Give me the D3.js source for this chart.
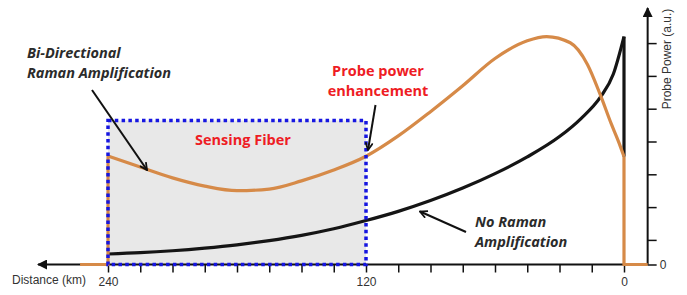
<!DOCTYPE html>
<html>
<head>
<meta charset="utf-8">
<script src="https://cdn.jsdelivr.net/npm/d3@7"></script>
<style>
  body { margin: 0; background: #fff; }
  .axis text, .axis-label { font-family: "Liberation Sans", Arial, sans-serif; font-size: 12px; fill: #333; }
  .note { font-family: "Open Sans", sans-serif; font-weight: bold; font-size: 14.5px; }
</style>
</head>
<body>
<div id="chart"></div>
<script>
var width = 687;
var height = 295;

// Probe power along the fiber (distance in km, power in a.u.)
var biDist = [240, 225, 210, 195, 180, 165, 150, 135, 120, 105, 90, 75, 60, 45, 36, 25, 17, 11, 6, 2.5, 0];
var biPower = [3.31, 2.97, 2.64, 2.39, 2.25, 2.3, 2.55, 2.88, 3.3, 3.92, 4.66, 5.45, 6.28, 6.82, 6.95, 6.76, 6.1, 5.17, 4.3, 3.74, 3.29];

var noDist = [240, 225, 210, 195, 180, 165, 150, 135, 120, 105, 90, 75, 60, 45, 30, 20, 11, 5, 0];
var noPower = [0.32, 0.36, 0.42, 0.5, 0.6, 0.73, 0.89, 1.09, 1.34, 1.62, 1.95, 2.33, 2.77, 3.28, 3.9, 4.45, 5.1, 5.8, 6.95];

// flat parts of the bi-directional trace outside the fiber
var leadIn = [[253, 0], [240, 0], [240, 3.31]];
var leadOut = [[0, 3.29], [0, 0], [-11, 0]];

var sensingSpan = [240, 120];
var sensingTop = 4.39;

var xTicks = d3.range(0, 241, 15);
var xLabels = [240, 120, 0];
var yTicks = [0, 0.75, 1.75, 2.75, 3.75, 4.75, 5.75, 6.75];

var x = d3.scaleLinear().domain([240, 0]).range([108, 624]);
var y = d3.scaleLinear().domain([0, 7]).range([264.5, 34.9]);

var svg = d3.select("#chart")
    .append("svg")
    .attr("width", width)
    .attr("height", height);

var defs = svg.append("defs");
defs.append("marker")
    .attr("id", "open")
    .attr("viewBox", "0 0 10 10")
    .attr("refX", 9).attr("refY", 5)
    .attr("markerWidth", 9).attr("markerHeight", 9)
    .attr("markerUnits", "userSpaceOnUse")
    .attr("orient", "auto")
    .append("path")
    .attr("d", "M1,1 L9,5 L1,9")
    .attr("fill", "none")
    .attr("stroke", "#111")
    .attr("stroke-width", 2);
defs.append("marker")
    .attr("id", "solid")
    .attr("viewBox", "0 0 10 10")
    .attr("refX", 9).attr("refY", 5)
    .attr("markerWidth", 10).attr("markerHeight", 10)
    .attr("markerUnits", "userSpaceOnUse")
    .attr("orient", "auto")
    .append("path")
    .attr("d", "M0,0 L10,5 L0,10 Z")
    .attr("fill", "#111");

// Sensing fiber box (fill)
var box = {
    x: x(sensingSpan[0]), y: y(sensingTop),
    w: x(sensingSpan[1]) - x(sensingSpan[0]), h: y(0) - y(sensingTop)
};
svg.append("rect")
    .attr("x", box.x).attr("y", box.y)
    .attr("width", box.w).attr("height", box.h)
    .attr("fill", "#e8e8e8");

// Axes
var axisX = x(-11);
svg.append("line")
    .attr("x1", axisX).attr("y1", y(0))
    .attr("x2", 38).attr("y2", y(0))
    .attr("stroke", "#111").attr("stroke-width", 2)
    .attr("marker-end", "url(#solid)");
svg.append("line")
    .attr("x1", axisX).attr("y1", y(0))
    .attr("x2", axisX).attr("y2", 8)
    .attr("stroke", "#111").attr("stroke-width", 2)
    .attr("marker-end", "url(#solid)");

var gx = svg.append("g")
    .attr("class", "axis")
    .attr("transform", "translate(0," + y(0) + ")")
    .call(d3.axisBottom(x)
        .tickValues(xTicks)
        .tickSize(8)
        .tickFormat(function(d) { return xLabels.indexOf(d) >= 0 ? d : ""; }));
gx.select(".domain").remove();
gx.selectAll(".tick line").attr("stroke", "#111").attr("stroke-width", 1.5);
gx.selectAll(".tick text").attr("dy", "0.9em");

var gy = svg.append("g")
    .attr("class", "axis")
    .attr("transform", "translate(" + axisX + ",0)")
    .call(d3.axisRight(y)
        .tickValues(yTicks)
        .tickSize(9)
        .tickFormat(function(d) { return d === 0 ? "0" : ""; }));
gy.select(".domain").remove();
gy.selectAll(".tick line").attr("stroke", "#111").attr("stroke-width", 1.5);

svg.append("text")
    .attr("class", "axis-label")
    .attr("x", 12).attr("y", 284)
    .text("Distance (km)");

svg.append("text")
    .attr("class", "axis-label")
    .attr("transform", "translate(671,59) rotate(-90)")
    .attr("text-anchor", "middle")
    .text("Probe Power (a.u.)");

// Traces
var smooth = d3.line()
    .x(function(d) { return x(d[0]); })
    .y(function(d) { return y(d[1]); })
    .curve(d3.curveMonotoneX);
var straight = d3.line()
    .x(function(d) { return x(d[0]); })
    .y(function(d) { return y(d[1]); });

var orange = "#d68a48";

svg.append("path")
    .attr("d", smooth(d3.zip(noDist, noPower)))
    .attr("fill", "none").attr("stroke", "#151515").attr("stroke-width", 3.2);
svg.append("path")
    .attr("d", straight([[0, noPower[noPower.length - 1]], [0, 3.29]]))
    .attr("fill", "none").attr("stroke", "#151515").attr("stroke-width", 3.2);

svg.append("path")
    .attr("d", smooth(d3.zip(biDist, biPower)))
    .attr("fill", "none").attr("stroke", orange).attr("stroke-width", 3.2);
[leadIn, leadOut].forEach(function(seg) {
    svg.append("path")
        .attr("d", straight(seg))
        .attr("fill", "none").attr("stroke", orange).attr("stroke-width", 3.2);
});

// Sensing fiber box (dotted border on top)
svg.append("rect")
    .attr("x", box.x).attr("y", box.y)
    .attr("width", box.w).attr("height", box.h)
    .attr("fill", "none")
    .attr("stroke", "#1616e0")
    .attr("stroke-width", 3.5)
    .attr("stroke-dasharray", "3.5,3.3");

// Annotations
var notes = [
    { lines: ["Bi-Directional", "Raman Amplification"], x: 27, y: 58, color: "#2b2b2b", italic: true, anchor: "start" },
    { lines: ["Sensing Fiber"], x: 243, y: 145, color: "#ee1c24", italic: false, anchor: "middle" },
    { lines: ["Probe power", "enhancement"], x: 378, y: 76, color: "#ee1c24", italic: false, anchor: "middle" },
    { lines: ["No Raman", "Amplification"], x: 475, y: 227, color: "#2b2b2b", italic: true, anchor: "start" }
];
notes.forEach(function(n) {
    var t = svg.append("text")
        .attr("class", "note")
        .attr("text-anchor", n.anchor)
        .style("fill", n.color)
        .style("font-style", n.italic ? "italic" : "normal");
    n.lines.forEach(function(l, i) {
        t.append("tspan").attr("x", n.x).attr("y", n.y + i * 20).text(l);
    });
});

var pointers = [
    [[92, 90], [147, 170]],
    [[375.5, 105], [368, 150]],
    [[466, 232], [420, 211.5]]
];
pointers.forEach(function(p) {
    svg.append("line")
        .attr("x1", p[0][0]).attr("y1", p[0][1])
        .attr("x2", p[1][0]).attr("y2", p[1][1])
        .attr("stroke", "#111").attr("stroke-width", 2)
        .attr("marker-end", "url(#open)");
});
</script>
</body>
</html>
